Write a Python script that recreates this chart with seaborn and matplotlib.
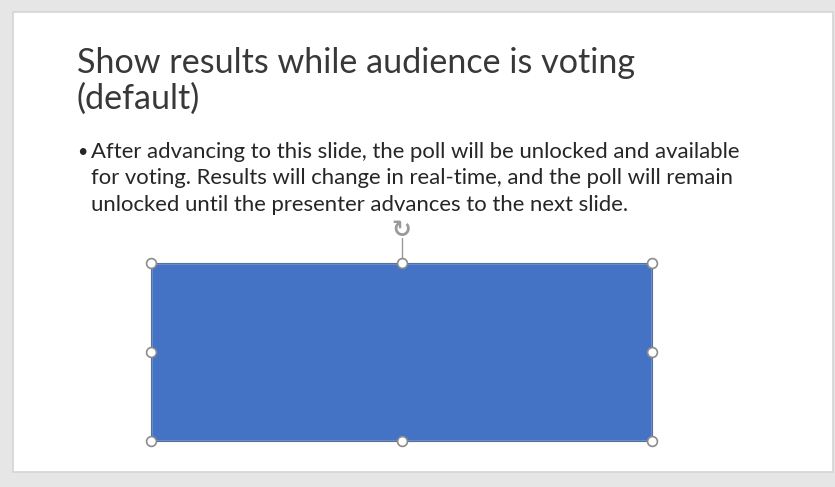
import matplotlib
matplotlib.use("Agg")
import matplotlib.pyplot as plt
import matplotlib.patches as mpatches
import seaborn as sns
import pandas as pd

# slide content
title_lines = ["Show results while audience is voting", "(default)"]
bullet_lines = [
    "After advancing to this slide, the poll will be unlocked and available",
    "for voting. Results will change in real-time, and the poll will remain",
    "unlocked until the presenter advances to the next slide.",
]
# poll placeholder (one empty result bar filling the box)
poll_labels = ["poll"]
poll_values = [1.0]

sns.set_theme(style="white")
plt.rcParams["font.family"] = ["Lato", "DejaVu Sans"]

W, H = 835, 487
fig = plt.figure(figsize=(W / 100, H / 100), dpi=100)
fig.patch.set_facecolor("#e6e6e6")

def pixel_axes(z):
    a = fig.add_axes([0, 0, 1, 1])
    a.set_xlim(0, W)
    a.set_ylim(H, 0)
    a.axis("off")
    a.set_zorder(z)
    return a

# bottom: white slide with thin grey border
bg = pixel_axes(0)
bg.add_patch(mpatches.Rectangle((13, 12), 820, 460, facecolor="white",
                                edgecolor="#d4d4d4", linewidth=1.2))

# title
for i, line in enumerate(title_lines):
    bg.text(77, 73 + i * 36, line, fontsize=24.6, fontweight="normal",
            color="#383838", va="baseline", ha="left")

# bullets
bg.text(77, 157, "\u2022", fontsize=13, color="#262626", va="baseline")
for i, line in enumerate(bullet_lines):
    bg.text(91, 158 + i * 26.5, line, fontsize=15.9, color="#262626",
            va="baseline", ha="left")

# poll box
x0, x1, y0, y1 = 151, 652, 263, 441
ax = fig.add_axes([x0 / W, 1 - y1 / H, (x1 - x0) / W, (y1 - y0) / H])
ax.set_zorder(1)
df = pd.DataFrame({"label": poll_labels, "value": poll_values})
sns.barplot(data=df, x="label", y="value", color="#4472c4", width=1.0,
            saturation=1, ax=ax)
ax.set_xlim(-0.5, 0.5)
ax.set_ylim(0, max(poll_values))
ax.axis("off")

# top: selection frame + handles
top = pixel_axes(2)
top.add_patch(mpatches.Rectangle((x0, y0), x1 - x0, y1 - y0, fill=False,
                                 edgecolor="#5a6f96", linewidth=0.8))
xm, ym = (x0 + x1) / 2, (y0 + y1) / 2
hx = [x0, xm, x1, x0, x1, x0, xm, x1]
hy = [y0, y0, y0, ym, ym, y1, y1, y1]
top.plot([xm, xm], [y0, 238], color="#9a9a9a", linewidth=1)
top.scatter(hx, hy, s=50, facecolor="white", edgecolor="#8c8c8c",
            linewidth=1.2, zorder=10)

# rotation handle
top.text(xm, 230, "\u21bb", fontsize=17, color="#9a9a9a", ha="center",
         va="center", family="DejaVu Sans", fontweight="bold")

fig.savefig("out.png", dpi=100, facecolor=fig.get_facecolor())
